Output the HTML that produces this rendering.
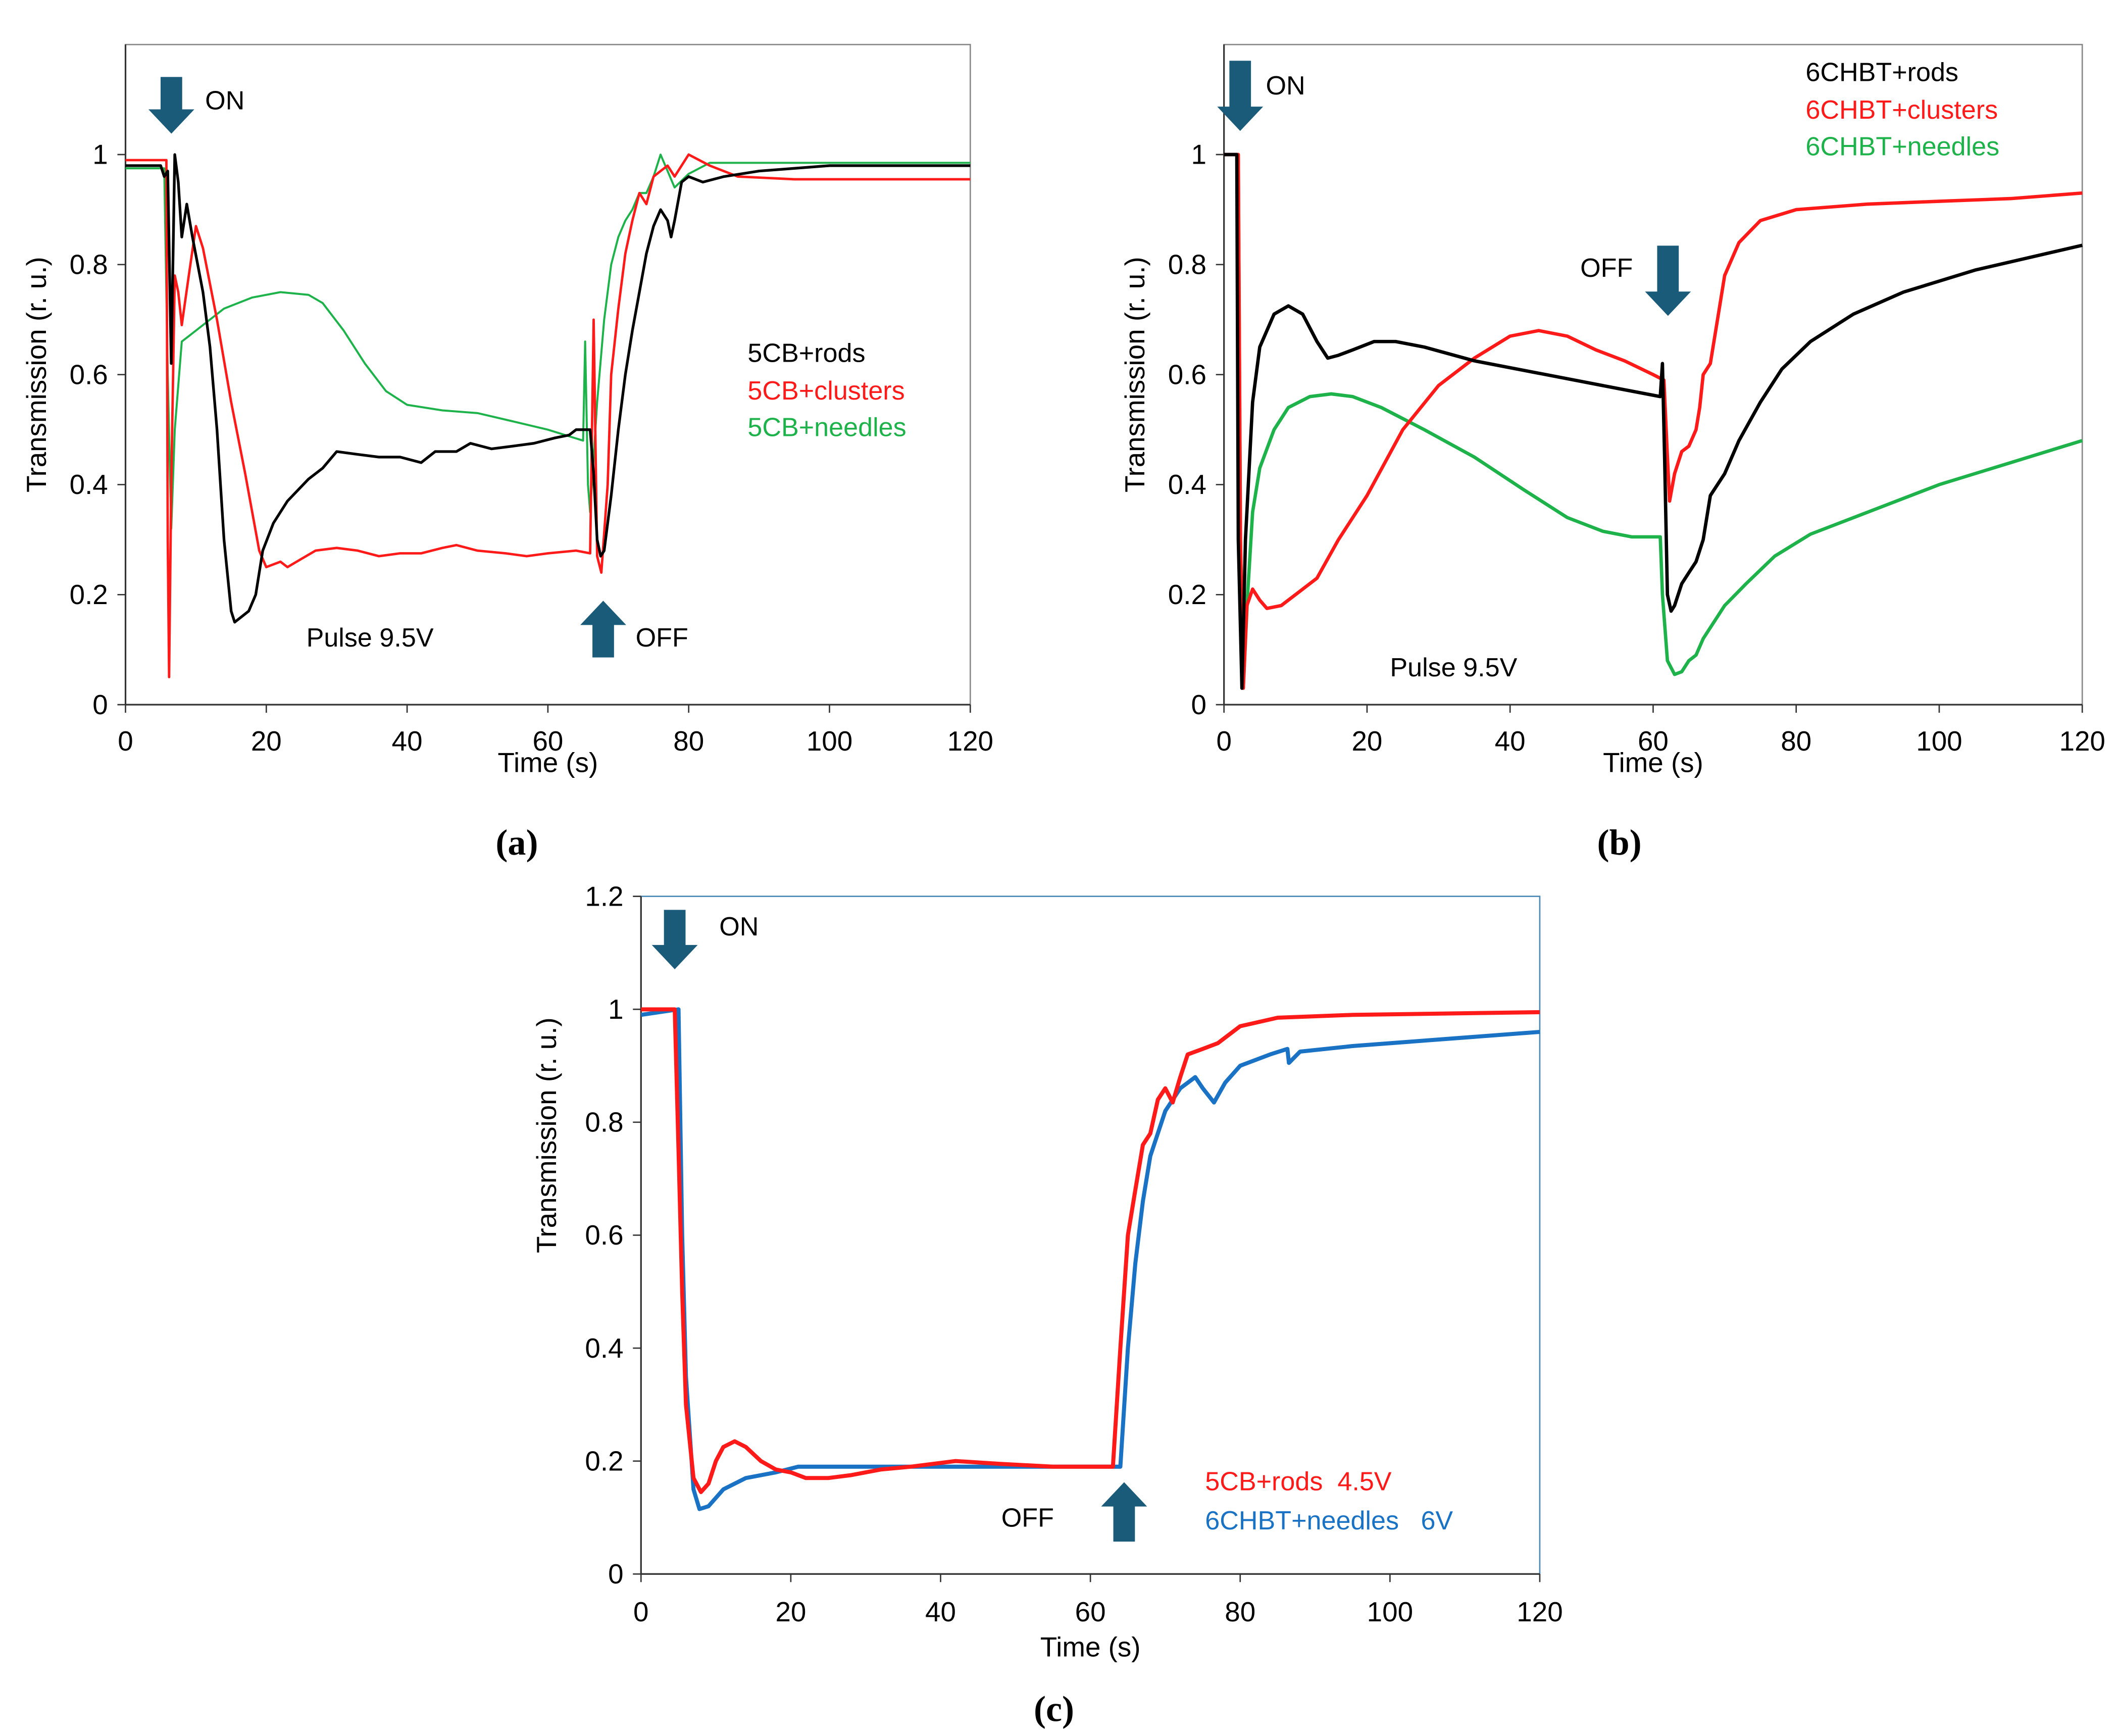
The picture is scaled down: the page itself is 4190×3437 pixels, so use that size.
<!DOCTYPE html>
<html><head><meta charset="utf-8"><style>
html,body{margin:0;padding:0;background:#fff;}
svg{display:block;}
text{font-family:"Liberation Sans",sans-serif;white-space:pre;}
</style></head><body>
<svg id="fig" width="4190" height="3437" viewBox="0 0 1568 1286" preserveAspectRatio="none" xmlns="http://www.w3.org/2000/svg">
<rect width="1568" height="1286" fill="#fff"/>
<g id="layer"></g>
</svg>
<script>
// ---- data ----
const xTicks=[0,20,40,60,80,100,120];
const yTicksAB=[0,0.2,0.4,0.6,0.8,1];
const yTicksC=[0,0.2,0.4,0.6,0.8,1,1.2];
const aRods=[[0,.98],[5,.98],[5.5,.96],[6,.97],[6.5,.62],[7,1.0],[7.5,.95],[8,.85],[8.7,.91],[9.5,.85],[11,.75],[12,.65],[13,.5],[14,.3],[15,.17],[15.5,.15],[16.5,.16],[17.5,.17],[18.5,.2],[19.5,.28],[21,.33],[23,.37],[26,.41],[28,.43],[30,.46],[33,.455],[36,.45],[39,.45],[42,.44],[44,.46],[47,.46],[49,.475],[52,.465],[55,.47],[58,.475],[61,.485],[63,.49],[64,.5],[66,.5],[66.5,.42],[67,.3],[67.5,.27],[68,.28],[69,.38],[70,.5],[71,.6],[72,.68],[73,.75],[74,.82],[75,.87],[76,.9],[77,.88],[77.5,.85],[78,.88],[79,.95],[80,.96],[82,.95],[85,.96],[90,.97],[100,.98],[120,.98]];
const aClusters=[[0,.99],[5.8,.99],[6,.3],[6.2,.05],[6.5,.4],[7,.78],[7.5,.75],[8,.69],[9,.78],[10,.87],[11,.83],[13,.7],[15,.55],[17,.42],[18,.35],[19,.28],[20,.25],[21,.255],[22,.26],[23,.25],[25,.265],[27,.28],[30,.285],[33,.28],[36,.27],[39,.275],[42,.275],[45,.285],[47,.29],[50,.28],[54,.275],[57,.27],[60,.275],[64,.28],[66,.275],[66.5,.7],[67,.27],[67.6,.24],[68.5,.4],[69,.6],[70,.72],[71,.82],[72,.88],[73,.93],[74,.91],[75,.96],[76,.97],[77,.98],[78,.96],[80,1.0],[83,.98],[87,.96],[95,.955],[120,.955]];
const aNeedles=[[0,.975],[5.5,.975],[6,.6],[6.5,.32],[7,.5],[8,.66],[9,.67],[11,.69],[14,.72],[18,.74],[22,.75],[26,.745],[28,.73],[31,.68],[34,.62],[37,.57],[40,.545],[45,.535],[50,.53],[55,.515],[60,.5],[65,.48],[65.3,.66],[65.7,.4],[66,.35],[66.5,.45],[67,.55],[68,.7],[69,.8],[70,.85],[71,.88],[72,.9],[73,.93],[74,.93],[75,.96],[76,1.0],[77,.97],[78,.94],[80,.965],[83,.985],[90,.985],[120,.985]];
const bRods=[[0,1],[1.8,1],[2,.3],[2.5,.03],[3,.3],[4,.55],[5,.65],[7,.71],[9,.725],[11,.71],[13,.66],[14.5,.63],[16,.635],[18,.645],[21,.66],[24,.66],[28,.65],[35,.625],[45,.6],[55,.575],[61,.56],[61.3,.62],[61.6,.45],[62,.2],[62.5,.17],[63,.18],[64,.22],[65,.24],[66,.26],[67,.3],[68,.38],[70,.42],[72,.48],[75,.55],[78,.61],[82,.66],[88,.71],[95,.75],[105,.79],[120,.835]];
const bClusters=[[0,1],[2,1],[2.3,.3],[2.7,.03],[3.2,.18],[4,.21],[5,.19],[6,.175],[8,.18],[10,.2],[13,.23],[16,.3],[20,.38],[25,.5],[30,.58],[35,.63],[40,.67],[44,.68],[48,.67],[52,.645],[56,.625],[60,.6],[61.5,.59],[62,.45],[62.3,.37],[63,.42],[64,.46],[65,.47],[66,.5],[66.5,.54],[67,.6],[68,.62],[69,.7],[70,.78],[72,.84],[75,.88],[80,.9],[90,.91],[100,.915],[110,.92],[120,.93]];
const bNeedles=[[0,1],[2,1],[2.3,.3],[2.7,.03],[3.3,.2],[4,.35],[5,.43],[7,.5],[9,.54],[12,.56],[15,.565],[18,.56],[22,.54],[28,.5],[35,.45],[42,.39],[48,.34],[53,.315],[57,.305],[61,.305],[61.3,.2],[62,.08],[63,.055],[64,.06],[65,.08],[66,.09],[67,.12],[68,.14],[70,.18],[73,.22],[77,.27],[82,.31],[90,.35],[100,.4],[110,.44],[120,.48]];
const cRods=[[0,1],[4.5,1],[5,.75],[5.5,.5],[6,.3],[7,.17],[8,.145],[9,.16],[10,.2],[11,.225],[12.5,.235],[14,.225],[16,.2],[18,.185],[20,.18],[22,.17],[25,.17],[28,.175],[32,.185],[36,.19],[42,.2],[48,.195],[55,.19],[60,.19],[63,.19],[64,.4],[65,.6],[66,.68],[67,.76],[68,.78],[69,.84],[70,.86],[71,.835],[72,.88],[73,.92],[75,.93],[77,.94],[80,.97],[85,.985],[95,.99],[120,.995]];
const cNeedles=[[0,.99],[5,1],[5.5,.6],[6,.35],[7,.15],[7.8,.115],[9,.12],[11,.15],[14,.17],[18,.18],[21,.19],[30,.19],[40,.19],[50,.19],[60,.19],[64,.19],[65,.4],[66,.55],[67,.66],[68,.74],[70,.82],[72,.86],[74,.88],[75,.86],[76.5,.835],[78,.87],[80,.9],[84,.92],[86.3,.93],[86.5,.905],[88,.925],[95,.935],[105,.945],[120,.96]];

const NS="http://www.w3.org/2000/svg";
const layer=document.getElementById('layer');
function el(tag,attrs,parent){const e=document.createElementNS(NS,tag);for(const k in attrs)e.setAttribute(k,attrs[k]);(parent||layer).appendChild(e);return e;}
function txt(s,x,y,attrs,name){const t=el('text',Object.assign({x:x,y:y,'font-size':19.5,fill:'#000'},attrs||{}));t.textContent=s;


return t;}

function panel(P,yTicks,series,key){
  const g=el('g',{});
  
  
  const X=t=>P.l+t/120*(P.r-P.l);
  const Y=v=>P.b-v/P.ymax*(P.b-P.t);
  const f=el('rect',{x:P.l,y:P.t,width:P.r-P.l,height:P.b-P.t,fill:'none',stroke:P.frame,'stroke-width':1},g);
  
  
  el('line',{x1:P.l,y1:P.t,x2:P.l,y2:P.b,stroke:'#333','stroke-width':1.2},g);
  el('line',{x1:P.l,y1:P.b,x2:P.r,y2:P.b,stroke:'#333','stroke-width':1.2},g);
  xTicks.forEach(t=>{el('line',{x1:X(t),y1:P.b,x2:X(t),y2:P.b+6,stroke:'#333'},g);
    txt(String(t),X(t),P.xl,{'text-anchor':'middle','font-size':20.5},'x-tick-label');});
  yTicks.forEach(v=>{el('line',{x1:P.l-6,y1:Y(v),x2:P.l,y2:Y(v),stroke:'#333'},g);
    txt(String(v),P.l-13,Y(v)+7,{'text-anchor':'end','font-size':20.5},'y-tick-label');});
  series.forEach(s=>{
    const p=el('path',{d:s.d.map((q,i)=>(i?'L':'M')+X(q[0]).toFixed(1)+','+Y(q[1]).toFixed(1)).join(''),fill:'none',stroke:s.c,'stroke-width':s.w,'stroke-linejoin':'round'},g);
    
    
  });
  txt('Transmission (r. u.)',0,0,{'text-anchor':'middle','font-size':20.5,transform:'translate('+P.yx+','+((P.t+P.b)/2+(P.yoff||0))+') rotate(-90)'},'y-axis-title');
  txt('Time (s)',P.xtx,P.xty,{'text-anchor':'middle','font-size':20.5},'x-axis-title');
}
panel({l:93,r:719,t:33,b:522,ymax:1.2,frame:'#888',xl:556,yx:34,xtx:406,xty:572},yTicksAB,
 [{d:aNeedles,c:'#1db24a',w:1.5,n:'line-5cb-needles'},{d:aClusters,c:'#ff1a1a',w:1.8,n:'line-5cb-clusters'},{d:aRods,c:'#000',w:2,n:'line-5cb-rods'}],'a');
panel({l:907,r:1543,t:33,b:522,ymax:1.2,frame:'#888',xl:556,yx:848,xtx:1225,xty:572},yTicksAB,
 [{d:bNeedles,c:'#1db24a',w:2.5,n:'line-6chbt-needles'},{d:bClusters,c:'#ff1a1a',w:2.5,n:'line-6chbt-clusters'},{d:bRods,c:'#000',w:2.5,n:'line-6chbt-rods'}],'b');
panel({l:475,r:1141,t:664,b:1166,ymax:1.2,frame:'#4a8ab5',xl:1201,yx:412,xtx:808,xty:1227,yoff:-74},yTicksC,
 [{d:cNeedles,c:'#1a72c4',w:3,n:'line-6chbt-needles-6v'},{d:cRods,c:'#ff1a1a',w:3,n:'line-5cb-rods-4-5v'}],'c');

function arrow(x,y1,y2,down,name){
  const w=8,hw=17,hl=18;let d;
  if(down){d=`M${x-w},${y1}L${x+w},${y1}L${x+w},${y2-hl}L${x+hw},${y2-hl}L${x},${y2}L${x-hw},${y2-hl}L${x-w},${y2-hl}Z`;}
  else{d=`M${x-w},${y2}L${x+w},${y2}L${x+w},${y1+hl}L${x+hw},${y1+hl}L${x},${y1}L${x-hw},${y1+hl}L${x-w},${y1+hl}Z`;}
  const p=el('path',{d:d,fill:'#1b5b7a'});
  
  
}
arrow(127,57,99,true,'on-arrow-a');arrow(447,445,487,false,'off-arrow-a');
arrow(919,45,97,true,'on-arrow-b');arrow(1236,182,234,true,'off-arrow-b');
arrow(500,674,718,true,'on-arrow-c');arrow(833,1098,1142,false,'off-arrow-c');

txt('ON',152,81,{},'on-label-a');txt('Pulse 9.5V',227,479,{},'pulse-label-a');txt('OFF',471,479,{},'off-label-a');
txt('5CB+rods',554,268,{},'legend-5cb-rods');txt('5CB+clusters',554,296,{fill:'#ff1a1a'},'legend-5cb-clusters');txt('5CB+needles',554,323,{fill:'#1db24a'},'legend-5cb-needles');
txt('ON',938,70,{},'on-label-b');txt('OFF',1171,205,{},'off-label-b');txt('Pulse 9.5V',1030,501,{},'pulse-label-b');
txt('6CHBT+rods',1338,60,{},'legend-6chbt-rods');txt('6CHBT+clusters',1338,88,{fill:'#ff1a1a'},'legend-6chbt-clusters');txt('6CHBT+needles',1338,115,{fill:'#1db24a'},'legend-6chbt-needles');
txt('ON',533,693,{},'on-label-c');txt('OFF',742,1131,{},'off-label-c');
txt('5CB+rods  4.5V',893,1104,{fill:'#ff1a1a'},'legend-5cb-rods-4-5v');
txt('6CHBT+needles   6V',893,1133,{fill:'#1a72c4'},'legend-6chbt-needles-6v');
txt('(a)',383,633,{'text-anchor':'middle','font-size':27,'font-weight':'bold',serif:'1'},'panel-label-a');
txt('(b)',1200,633,{'text-anchor':'middle','font-size':27,'font-weight':'bold',serif:'1'},'panel-label-b');
txt('(c)',781,1275,{'text-anchor':'middle','font-size':27,'font-weight':'bold',serif:'1'},'panel-label-c');
document.querySelectorAll('text[serif]').forEach(t=>{t.style.fontFamily='"Liberation Serif",serif';t.removeAttribute('serif');});
</script>
</body></html>
